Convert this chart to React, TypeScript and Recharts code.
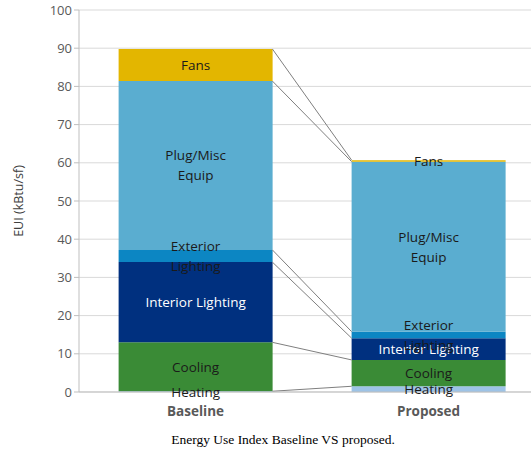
import {
  Bar,
  CartesianGrid,
  ComposedChart,
  LabelList,
  Line,
  XAxis,
  YAxis,
} from 'recharts'

const categories = ['Baseline', 'Proposed']
const seriesNames = [
  'Heating',
  'Cooling',
  'Interior Lighting',
  'Exterior Lighting',
  'Plug/Misc Equip',
  'Fans',
]
const heating = [0.2, 1.5]
const cooling = [12.8, 6.9]
const interiorLighting = [21.0, 5.7]
const exteriorLighting = [3.2, 1.7]
const plugMisc = [44.2, 44.5]
const fans = [8.4, 0.4]
const yTicks = [0, 10, 20, 30, 40, 50, 60, 70, 80, 90, 100]

// how each segment label wraps inside the bar
const labelLines: Record<string, string[]> = {
  Heating: ['Heating'],
  Cooling: ['Cooling'],
  'Interior Lighting': ['Interior Lighting'],
  'Exterior Lighting': ['Exterior', 'Lighting'],
  'Plug/Misc Equip': ['Plug/Misc', 'Equip'],
  Fans: ['Fans'],
}

const colors = ['#9DC3E6', '#3A8B36', '#00307F', '#0C86C3', '#5AADD0', '#E3B600']
const labelColors = ['#1a1a1a', '#1a1a1a', '#ffffff', '#1a1a1a', '#1a1a1a', '#1a1a1a']

const seriesValues = [heating, cooling, interiorLighting, exteriorLighting, plugMisc, fans]

const data = categories.map((name, i) => {
  const row: Record<string, string | number> = { name }
  seriesNames.forEach((s, k) => {
    row[s] = seriesValues[k][i]
  })
  return row
})

// cumulative tops, for the connector lines
const cumulative = (i: number) => {
  let sum = 0
  return seriesValues.map((v) => (sum += v[i]))
}
const baseTops = cumulative(0)
const propTops = cumulative(1)

const GAP = 0.17 // barCategoryGap fraction
const connectors = seriesNames.map((_, k) => [
  { x: 1 - GAP, y: baseTops[k] },
  { x: 1 + GAP, y: propTops[k] },
])

const font = 'Open Sans, sans-serif'

const makeLabel = (k: number) => (props: any) => {
  const { x, y, width, height } = props
  const lines = labelLines[seriesNames[k]]
  const cx = x + width / 2
  const cy = y + height / 2
  const lh = 20
  const start = cy - ((lines.length - 1) * lh) / 2
  return (
    <text
      x={cx}
      y={start}
      textAnchor="middle"
      dominantBaseline="central"
      fill={labelColors[k]}
      fontSize={13.5}
      fontFamily={font}
    >
      {lines.map((l, j) => (
        <tspan key={j} x={cx} y={start + j * lh}>
          {l}
        </tspan>
      ))}
    </text>
  )
}

export default function App() {
  return (
    <div
      style={{
        position: 'absolute',
        left: 0,
        top: 0,
        width: 531,
        height: 454,
        overflow: 'hidden',
        background: '#fff',
      }}
    >
      <div
        style={{
          position: 'absolute',
          left: 18,
          top: 201,
          transform: 'translate(-50%, -50%) rotate(-90deg)',
          fontFamily: font,
          fontSize: 12.5,
          color: '#404040',
          whiteSpace: 'nowrap',
        }}
      >
        EUI (kBtu/sf)
      </div>
      <ComposedChart
        width={545}
        height={420}
        data={data}
        margin={{ top: 10, right: 0, bottom: 0, left: 30 }}
        barCategoryGap={`${GAP * 100}%`}
      >
        <CartesianGrid vertical={false} stroke="#d9d9d9" />
        <XAxis
          xAxisId="num"
          dataKey="x"
          type="number"
          domain={[0, 2]}
          allowDataOverflow
          ticks={[1]}
          tick={() => <g />}
          tickLine={{ stroke: '#bfbfbf' }}
          axisLine={false}
          height={0}
          tickSize={5}
        />
        <XAxis
          dataKey="name"
          axisLine={{ stroke: '#bfbfbf' }}
          tickLine={false}
          height={28}
          tick={{ fill: '#595959', fontSize: 13.5, fontWeight: 700, fontFamily: font, dy: 6 }}
        />
        <YAxis
          domain={[0, 100]}
          ticks={yTicks}
          width={49}
          axisLine={{ stroke: '#bfbfbf' }}
          tickLine={{ stroke: '#bfbfbf' }}
          tickSize={5}
          tick={{ fill: '#595959', fontSize: 13, fontFamily: font }}
        />
        {seriesNames.map((s, k) => (
          <Bar key={s} dataKey={s} stackId="a" fill={colors[k]} isAnimationActive={false}>
            <LabelList dataKey={s} content={makeLabel(k)} />
          </Bar>
        ))}
        {connectors.map((c, k) => (
          <Line
            key={`c${k}`}
            xAxisId="num"
            data={c}
            dataKey="y"
            type="linear"
            stroke="#7f7f7f"
            strokeWidth={1}
            dot={false}
            activeDot={false}
            isAnimationActive={false}
          />
        ))}
      </ComposedChart>
      <div
        style={{
          position: 'absolute',
          top: 432,
          left: 0,
          width: 566,
          textAlign: 'center',
          fontFamily: 'Liberation Serif, serif',
          fontSize: 13.5,
          color: '#000',
        }}
      >
        Energy Use Index Baseline VS proposed.
      </div>
    </div>
  )
}
